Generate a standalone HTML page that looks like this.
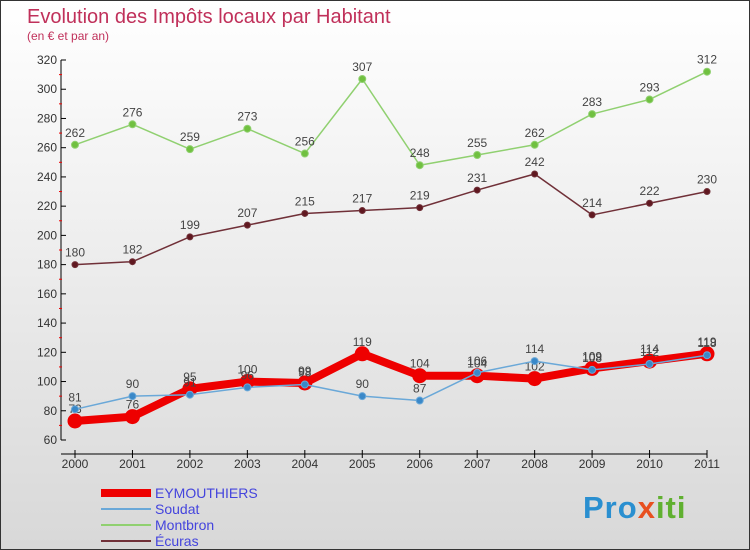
<!DOCTYPE html>
<html><head><meta charset="utf-8"><style>
body{margin:0}
#c{width:748px;height:548px;border:1px solid #333;background:linear-gradient(#fff,#d8d8d8);position:relative;font-family:"Liberation Sans",sans-serif}
</style></head><body>
<div id="c">
<svg id="s" width="748" height="548" style="position:absolute;left:0;top:0;font-family:'Liberation Sans',sans-serif">
<text x="26" y="22" font-size="20" fill="#c0305a">Evolution des Impôts locaux par Habitant</text>
<text x="26" y="39" font-size="12" fill="#c0305a">(en € et par an)</text>
<text x="582" y="517" font-size="31" font-weight="bold" letter-spacing="1" fill="#2a8fd0">Pro<tspan fill="#e85020">x</tspan><tspan fill="#60b030">iti</tspan></text>
</svg>
</div>
<script>
const years=["2000","2001","2002","2003","2004","2005","2006","2007","2008","2009","2010","2011"];
const eym=[73,76,95,100,99,119,104,104,102,109,114,119];
const soudat=[81,90,91,96,98,90,87,106,114,108,112,118];
const montbron=[262,276,259,273,256,307,248,255,262,283,293,312];
const ecuras=[180,182,199,207,215,217,219,231,242,214,222,230];
const yTicks=[60,80,100,120,140,160,180,200,220,240,260,280,300,320];
const NS="http://www.w3.org/2000/svg";
const svg=document.getElementById('s');
const X=i=>74+i*(632/11);
const Y=v=>439-(v-60)*(380/260);
function mk(t,a,p){const e=document.createElementNS(NS,t);for(const k in a)e.setAttribute(k,a[k]);(p||svg).appendChild(e);return e;}
let ax=mk('line',{x1:60,y1:Y(60),x2:60,y2:Y(320),stroke:'#000'});


let xa=mk('line',{x1:60,y1:453,x2:X(11),y2:453,stroke:'#000'});


yTicks.forEach((v,i)=>{
 mk('line',{x1:60,x2:65,y1:Y(v),y2:Y(v),stroke:'#000'});
 if(i<yTicks.length-1)mk('line',{x1:58,x2:61,y1:Y(v+10),y2:Y(v+10),stroke:'#e00'});
 const t=mk('text',{x:56,y:Y(v)+4,'font-size':12,fill:'#333','text-anchor':'end'});t.textContent=v;
 
 
});
years.forEach((y,i)=>{
 mk('line',{x1:X(i),x2:X(i),y1:449,y2:457,stroke:'#000'});
 const t=mk('text',{x:X(i),y:467,'font-size':12,fill:'#333','text-anchor':'middle'});t.textContent=y;
 
 
});
function series(d,col,w,r,name,fill){
 const g=mk('g',{});
 
 
 mk('polyline',{points:d.map((v,i)=>X(i)+','+Y(v)).join(' '),fill:'none',stroke:col,'stroke-width':w,'stroke-linejoin':'round'},g);
 d.forEach((v,i)=>{
  const c=mk('circle',{cx:X(i),cy:Y(v),r:r,fill:fill,stroke:col,'stroke-width':1},g);
  
  
  const t=mk('text',{x:X(i),y:Y(v)-8,'font-size':12,fill:'#444','text-anchor':'middle'},g);t.textContent=v;
 });
}
series(montbron,'#90d070',1.5,3.5,'montbron','#70c040');
series(ecuras,'#703038',1.5,3,'ecuras','#601820');
series(eym,'#ee0000',8,7,'eymouthiers','#ee0000');
series(soudat,'#6aa8d8',1.5,3.5,'soudat','#3a88c8');
const leg=[["EYMOUTHIERS","#ee0000",8],["Soudat","#6aa8d8",2],["Montbron","#90d070",2],["Écuras","#703038",2]];
leg.forEach((l,i)=>{
 const y=492+i*16;
 const g=mk('g',{});
 
 
 mk('line',{x1:100,x2:150,y1:y,y2:y,stroke:l[1],'stroke-width':l[2]},g);
 const t=mk('text',{x:154,y:y+5,'font-size':14,fill:'#4444dd'},g);t.textContent=l[0];
});
</script>
</body></html>
